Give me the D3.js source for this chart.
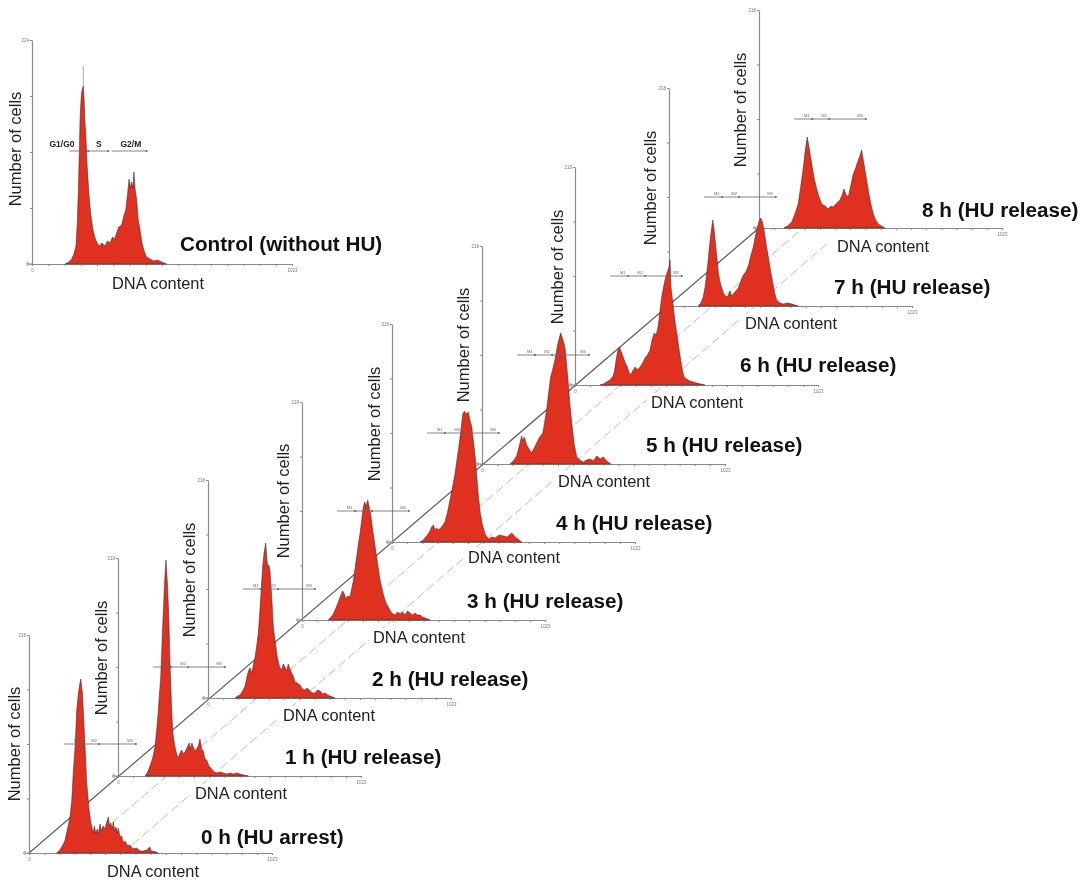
<!DOCTYPE html>
<html>
<head>
<meta charset="utf-8">
<script src="https://cdn.jsdelivr.net/npm/d3@7"></script>
<style>
  html, body { margin: 0; padding: 0; background: #fff; }
  svg { display: block; filter: blur(0.4px); font-family: "Liberation Sans", Arial, sans-serif; }
  .axis path, .axis line { stroke: #8a8a8a; }
  .axis text { fill: #777; font-size: 4.5px; font-family: "Liberation Sans", Arial, sans-serif; }
</style>
</head>
<body>
<div id="chart"></div>
<script>
// DNA histograms: channel (0-1023) and number of cells
const controlChannels = [130,145,156,165,173,178,182,186,189,192,195,199,202,205,208,212,217,224,231,240,248,258,267,275,287,297,307,317,325,333,341,353,361,369,376,382,387,392,397,401,406,411,418,424,432,440,450,464,480,495,510,529];
const controlCounts   = [0,2,5,10,18,40,71,110,144,160,171,176,178,165,144,128,98,70,50,34,26,20,18,21,18,23,21,27,25,31,37,39,48,54,70,85,76,82,76,92,74,66,44,36,22,14,7,5,3,4,2,0];
const h0Channels = [116,130,145,152,159,166,173,180,187,194,201,208,213,218,222,225,229,236,243,253,261,271,275,281,288,292,299,305,312,320,326,334,339,344,350,355,361,366,372,376,383,390,397,404,415,425,438,453,467,481,495,509,516,523,534,544];
const h0Counts   = [0,3,9,13,21,28,37,52,83,106,143,160,168,174,166,160,140,106,70,43,30,20,27,20,24,19,29,22,27,24,30,36,27,30,24,31,22,26,20,25,16,17,10,12,7,8,4,5,2,2,3,6,1,2,1,0];
const h1Channels = [114,125,135,146,156,163,170,175,180,184,188,192,195,199,202,205,208,212,215,218,222,226,230,235,240,247,254,261,268,275,282,290,300,305,311,317,324,331,338,345,352,359,366,373,383,394,405,416,430,443,458,472,486,500,514,528,549];
const h1Counts   = [0,4,10,18,30,46,66,84,99,125,149,170,189,205,216,205,192,170,149,120,92,66,46,36,29,22,18,23,26,22,24,28,33,27,33,29,25,27,30,37,27,25,17,16,10,7,4,3,4,3,2,3,2,3,2,1,0];
const h2Channels = [114,125,135,146,156,163,170,177,184,191,198,205,212,217,222,226,230,236,243,247,251,256,261,265,268,272,275,281,286,291,296,303,310,317,324,331,338,345,352,359,366,376,387,397,408,418,429,440,450,461,472,482,493,504,514,535];
const h2Counts   = [0,2,3,7,12,20,27,30,25,33,41,52,65,82,101,116,131,145,155,142,131,133,128,112,101,85,71,60,51,42,36,30,28,34,31,27,34,29,25,22,16,15,13,9,8,10,7,5,5,8,7,4,5,3,2,0];
const h3Channels = [111,122,132,143,153,162,171,178,185,193,202,209,216,223,230,237,244,251,258,264,270,277,283,289,295,300,307,314,321,328,335,342,352,363,377,392,402,413,423,434,444,455,465,476,486,497,507,518,539];
const h3Counts   = [0,3,6,12,18,24,29,26,21,24,23,31,39,51,63,75,86,99,113,118,114,120,112,106,95,86,75,63,52,41,33,26,18,13,7,5,8,6,8,5,9,7,5,7,5,5,3,2,0];
const h4Channels = [118,132,146,160,167,174,181,188,195,209,223,234,244,255,265,274,283,290,298,305,312,321,328,336,342,349,356,363,371,380,392,405,420,434,450,469,485,504,515,525,546];
const h4Counts   = [0,2,6,11,15,17,12,14,12,15,20,30,42,55,68,83,98,112,128,131,128,130,122,115,102,88,68,48,30,18,8,3,5,4,7,6,5,9,6,4,0];
const h5Channels = [118,132,146,156,167,172,178,188,198,209,220,230,243,256,264,272,280,289,298,307,319,331,340,349,356,363,370,378,388,399,412,426,440,455,469,483,497,511,525,542];
const h5Counts   = [0,3,8,17,28,23,27,19,15,11,16,21,27,31,42,54,70,87,95,104,120,131,125,117,100,81,60,41,20,7,4,2,4,5,3,8,5,7,3,0];
const h6Channels = [105,119,133,147,161,167,173,180,187,195,203,212,220,227,234,243,253,263,274,285,295,305,316,325,334,342,351,358,365,372,379,387,396,400,404,409,414,422,431,438,445,452,459,470,484,498,512,530,547];
const h6Counts   = [0,1,3,5,9,15,25,34,38,33,28,22,18,13,10,14,18,15,18,22,27,30,35,46,52,50,60,75,88,97,105,112,118,125,98,88,78,62,48,36,25,15,8,6,4,3,2,1,0];
const h7Channels = [123,134,144,152,159,165,170,177,184,189,194,201,208,215,222,231,240,248,257,264,271,281,292,302,313,323,334,344,355,362,369,377,386,393,400,409,418,427,437,445,453,467,481,499,517,530,544];
const h7Counts   = [0,3,9,19,33,46,59,73,86,78,66,50,33,24,18,12,9,10,15,10,12,15,18,25,31,34,40,50,59,68,76,83,88,84,76,62,49,36,23,13,6,3,2,3,2,1,0];
const h8Channels = [105,120,138,151,165,176,187,195,203,212,222,232,243,253,264,278,292,302,313,327,341,350,358,367,376,386,397,407,418,425,432,439,446,453,460,470,481,491,502,515,530];
const h8Counts   = [0,2,6,14,24,42,61,78,91,79,64,50,39,31,24,22,19,22,21,25,28,33,39,33,31,42,54,60,68,72,78,68,58,48,38,25,14,8,4,2,0];

const xTickValues = d3.range(0, 1024, 64).concat([1023]);
const gateLabels = ["M1", "M2", "M3"];
const gateEdges = [[148,223],[223,295],[295,450]];
const gateLabelChannels = [201,274,425];
const controlGateLabels = ["G1/G0", "S", "G2/M"];
const controlGateEdges = [[147,221],[221,300],[313,451]];
const controlGateLabelChannels = [118,263,389];
const controlSpike = [202,198];   // grey marker above the control G1 peak

const width = 1088, height = 883;
const red = "#e03020";

// back to front, later panels cover the axes of earlier ones
const panels = [
  {title:"8 h (HU release)", ch:h8Channels, n:h8Counts, ox:759, oy:228, tx:922, ty:217, dx:883, dy:252, nx:740, ny:110},
  {title:"7 h (HU release)", ch:h7Channels, n:h7Counts, ox:669, oy:306, tx:834, ty:294, dx:791, dy:329, nx:650, ny:188},
  {title:"6 h (HU release)", ch:h6Channels, n:h6Counts, ox:575, oy:385, tx:740, ty:372, dx:697, dy:408, nx:557, ny:267},
  {title:"5 h (HU release)", ch:h5Channels, n:h5Counts, ox:482, oy:464, tx:646, ty:452, dx:604, dy:487, nx:463, ny:345},
  {title:"4 h (HU release)", ch:h4Channels, n:h4Counts, ox:392, oy:542, tx:556, ty:530, dx:514, dy:563, nx:374, ny:424},
  {title:"3 h (HU release)", ch:h3Channels, n:h3Counts, ox:302, oy:620, tx:467, ty:608, dx:419, dy:643, nx:283, ny:501},
  {title:"2 h (HU release)", ch:h2Channels, n:h2Counts, ox:208, oy:698, tx:372, ty:686, dx:329, dy:721, nx:189, ny:580},
  {title:"1 h (HU release)", ch:h1Channels, n:h1Counts, ox:118, oy:776, tx:285, ty:764, dx:241, dy:799, nx:101, ny:658},
  {title:"0 h (HU arrest)",  ch:h0Channels, n:h0Counts, ox:29,  oy:853, tx:201, ty:844, dx:153, dy:877, nx:14,  ny:744},
  {title:"Control (without HU)", ch:controlChannels, n:controlCounts, ox:32, oy:264, tx:180, ty:251, dx:158, dy:289, nx:15, ny:149,
    w:260, h:224, yMax:224, control:true}
];

const svg = d3.select("#chart").append("svg").attr("width", width).attr("height", height);
svg.append("rect").attr("width", width).attr("height", height).attr("fill", "#fff");

// guide lines joining the panels
const back = svg.append("g");
back.append("line").attr("x1", 29).attr("y1", 853).attr("x2", 759).attr("y2", 228)
  .attr("stroke", "#5a5a5a").attr("stroke-width", 1.2);
[[112,823,803,228],[132,845,828,243]].forEach(function(l){
  back.append("line").attr("x1", l[0]).attr("y1", l[1]).attr("x2", l[2]).attr("y2", l[3])
    .attr("stroke", "#bbb").attr("stroke-width", 1).attr("stroke-dasharray", "9 4");
});

const masks = svg.append("g");

panels.forEach(function(p){
  let w = p.w || 243, h = p.h || 218, yMax = p.yMax || 218;
  let x = d3.scaleLinear().domain([0, 1023]).range([0, w]);
  let y = d3.scaleLinear().domain([0, yMax]).range([h, 0]);
  let g = svg.append("g").attr("transform", "translate(" + p.ox + "," + (p.oy - h) + ")");

  let xAxis = d3.axisBottom(x).tickValues(xTickValues).tickSize(2).tickSizeOuter(0)
    .tickFormat(function(d){ return (d == 0 || d == 1023) ? d : ""; });
  let yAxis = d3.axisLeft(y).tickValues([0, yMax/4, yMax/2, yMax*3/4, yMax]).tickSize(2).tickSizeOuter(0)
    .tickFormat(function(d){ return (d == 0 || d == yMax) ? d : ""; });

  let ga = g.append("g").attr("class", "axis").attr("transform", "translate(0," + h + ")").call(xAxis);
  let gb = g.append("g").attr("class", "axis").call(yAxis);
  ga.selectAll("text").attr("y", 5);
  gb.selectAll("text").attr("x", -3);
  gb.select(".domain").attr("stroke-width", 1.2);
  // x axis starts a little left of the origin
  g.append("line").attr("x1", -6).attr("x2", 0).attr("y1", h).attr("y2", h).attr("stroke", "#8a8a8a");

  let area = d3.area().x(function(d){ return x(d[0]); }).y0(y(0)).y1(function(d){ return y(d[1]); });
  let pts = d3.zip(p.ch, p.n);
  g.append("path").datum(pts).attr("d", area).attr("fill", red)
    .attr("stroke", "#2a2a2a").attr("stroke-opacity", 0.6).attr("stroke-width", 0.9);

  if (p.control) {
    g.append("line").attr("x1", x(controlSpike[0])).attr("x2", x(controlSpike[0]))
      .attr("y1", y(controlSpike[1])).attr("y2", y(178)).attr("stroke", "#aaa").attr("stroke-width", 1);
  }

  // gates
  let gy = y(p.control ? 113 : 109);
  let edges = p.control ? controlGateEdges : gateEdges;
  let names = p.control ? controlGateLabels : gateLabels;
  let lx = p.control ? controlGateLabelChannels : gateLabelChannels;
  edges.forEach(function(e, i){
    g.append("line").attr("x1", x(e[0])).attr("x2", x(e[1])).attr("y1", gy).attr("y2", gy)
      .attr("stroke", "#666").attr("stroke-width", 0.8);
    g.append("circle").attr("cx", x(e[1])).attr("cy", gy).attr("r", 0.9).attr("fill", "#555");
    g.append("text").attr("x", x(lx[i])).attr("y", gy - (p.control ? 4 : 2.5)).attr("text-anchor", "middle")
      .attr("font-size", p.control ? 8.5 : 4).attr("font-weight", p.control ? "bold" : "normal")
      .attr("fill", p.control ? "#222" : "#666").text(names[i]);
  });

  let dna = svg.append("text").attr("x", p.dx).attr("y", p.dy).attr("text-anchor", "middle")
    .attr("font-size", 16.4).attr("fill", "#222").text("DNA content");
  let b = dna.node().getBBox();
  masks.append("rect").attr("x", b.x - 4).attr("y", b.y).attr("width", b.width + 8).attr("height", b.height + 2).attr("fill", "#fff");

  svg.append("text").attr("transform", "translate(" + (p.nx + 6) + "," + p.ny + ") rotate(-90)")
    .attr("text-anchor", "middle").attr("font-size", 16.5).attr("fill", "#222").text("Number of cells");

  svg.append("text").attr("x", p.tx).attr("y", p.ty).attr("font-size", 20.7).attr("font-weight", "bold")
    .attr("fill", "#111").text(p.title);
});
</script>
</body>
</html>
